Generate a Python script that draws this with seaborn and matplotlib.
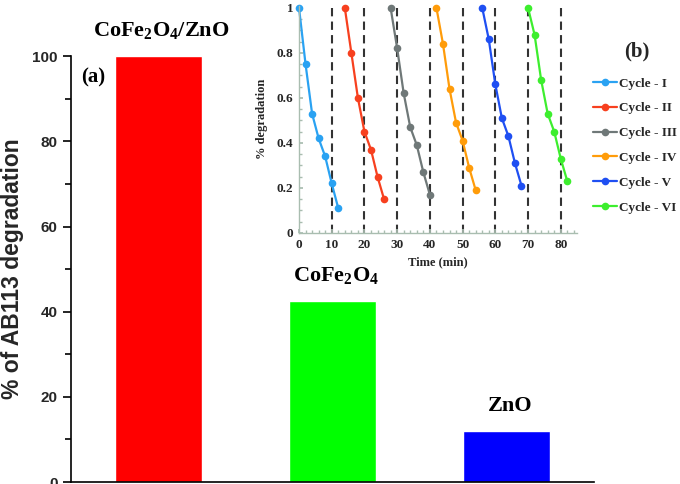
import matplotlib
matplotlib.use("Agg")
import matplotlib.pyplot as plt
import matplotlib.ticker as mtick
import seaborn as sns
import pandas as pd

# main panel (a)
catalysts = [r"CoFe$_2$O$_4$/ZnO", r"CoFe$_2$O$_4$", "ZnO"]
degradation = [100, 42.5, 12]
bar_colors = ["#FF0000", "#00FF00", "#0000FF"]

# inset panel (b): reuse cycles
cycle_names = ["Cycle - I", "Cycle - II", "Cycle - III", "Cycle - IV", "Cycle - V", "Cycle - VI"]
cycle_times = [
    [0, 2, 4, 6, 8, 10, 12],
    [14, 16, 18, 20, 22, 24, 26],
    [28, 30, 32, 34, 36, 38, 40],
    [42, 44, 46, 48, 50, 52, 54],
    [56, 58, 60, 62, 64, 66, 68],
    [70, 72, 74, 76, 78, 80, 82],
]
cycle_values = [
    [1.00, 0.75, 0.53, 0.42, 0.34, 0.22, 0.11],
    [1.00, 0.80, 0.60, 0.45, 0.37, 0.25, 0.15],
    [1.00, 0.82, 0.62, 0.47, 0.39, 0.27, 0.17],
    [1.00, 0.84, 0.64, 0.49, 0.41, 0.29, 0.19],
    [1.00, 0.86, 0.66, 0.51, 0.43, 0.31, 0.21],
    [1.00, 0.88, 0.68, 0.53, 0.45, 0.33, 0.23],
]
cycle_colors = ["#2AA2F2", "#F7401F", "#6F7878", "#FF9C0A", "#1F4FF2", "#3DEE2E"]
cycle_marks = [10, 20, 30, 40, 50, 60, 70, 80]

sns.set_theme(style="ticks")
plt.rcParams["font.family"] = ["Liberation Serif", "DejaVu Serif"]
plt.rcParams["mathtext.fontset"] = "custom"
plt.rcParams["mathtext.rm"] = "Liberation Serif:bold"
plt.rcParams["mathtext.it"] = "Liberation Serif:bold"
plt.rcParams["mathtext.bf"] = "Liberation Serif:bold"

fig = plt.figure(figsize=(6.8, 4.84), dpi=100)
ax = fig.add_axes([0.1044, 0.004, 0.769, 0.880])

bars = pd.DataFrame({"catalyst": catalysts, "deg": degradation})
sns.barplot(data=bars, x="catalyst", y="deg", hue="catalyst", palette=bar_colors,
            width=0.5, saturation=1, legend=False, ax=ax)
ax.set_xlim(-0.5, 2.5)
ax.set_ylim(0, 100)
ax.set_xticks([])
ax.set_xlabel("")
ax.set_ylabel("% of AB113 degradation", fontsize=16.5, fontweight="bold",
              family="Liberation Sans", labelpad=6)
ax.yaxis.set_major_locator(mtick.MultipleLocator(20))
ax.yaxis.set_minor_locator(mtick.MultipleLocator(10))
ax.tick_params(axis="y", which="major", length=6, width=1.2, direction="out", color="black")
ax.tick_params(axis="y", which="minor", length=4, width=1.2, direction="out", color="black")
for lab in ax.get_yticklabels():
    lab.set_fontfamily("Liberation Sans")
    lab.set_fontweight("bold")
    lab.set_fontsize(11)
for s in ["top", "right"]:
    ax.spines[s].set_visible(False)
for s in ["left", "bottom"]:
    ax.spines[s].set_color("black")
    ax.spines[s].set_linewidth(1.2)

for i, (name, val) in enumerate(zip(catalysts, degradation)):
    ax.text(i + 0.02, val + 3.5, name, ha="center", va="bottom",
            fontsize=16, fontweight="bold", color="black")
ax.text(0.02, 0.95, "(a)", transform=ax.transAxes, fontsize=15,
        fontweight="bold", color="black", va="center")

# inset
ins = fig.add_axes([0.4397, 0.5186, 0.409, 0.470])
for name, t, v, c in zip(cycle_names, cycle_times, cycle_values, cycle_colors):
    d = pd.DataFrame({"time": t, "value": v})
    sns.lineplot(data=d, x="time", y="value", color=c, marker="o", markersize=5.5,
                 markeredgewidth=0, linewidth=1.6, label=name, ax=ins, clip_on=False)
for m in cycle_marks:
    ins.axvline(m, color="#333333", linestyle=(0, (4, 2.5)), linewidth=1.5, zorder=0)
ins.set_xlim(0, 85)
ins.set_ylim(0, 1.01)
ins.set_facecolor("none")
ins.xaxis.set_major_locator(mtick.MultipleLocator(10))
ins.xaxis.set_minor_locator(mtick.MultipleLocator(2))
ins.yaxis.set_major_locator(mtick.MultipleLocator(0.2))
ins.yaxis.set_minor_locator(mtick.MultipleLocator(0.05))
ins.yaxis.set_major_formatter(mtick.FuncFormatter(lambda v, _: f"{v:g}"))
ins.tick_params(which="both", direction="in", color="#A9BDB0", labelsize=9.5, pad=4)
ins.tick_params(which="major", length=3)
ins.tick_params(which="minor", length=2)
for lab in ins.get_xticklabels() + ins.get_yticklabels():
    lab.set_fontweight("bold")
for s in ["top", "right"]:
    ins.spines[s].set_visible(False)
for s in ["left", "bottom"]:
    ins.spines[s].set_color("#A9BDB0")
    ins.spines[s].set_linewidth(1.0)
ins.set_xlabel("Time (min)", fontsize=9, fontweight="bold", labelpad=4)
ins.set_ylabel("% degradation", fontsize=9, fontweight="bold", labelpad=6)

handles, labels = ins.get_legend_handles_labels()
ins.get_legend().remove()
fig.legend(handles, labels, loc="upper left", bbox_to_anchor=(0.872, 0.84),
           frameon=False, prop={"weight": "bold", "size": 9.5},
           handlelength=1.8, handletextpad=0.2, labelspacing=0.95,
           borderpad=0, borderaxespad=0)
fig.text(0.918, 0.893, "(b)", fontsize=15, fontweight="bold", ha="left", va="center")

fig.savefig("out.png", dpi=100)
